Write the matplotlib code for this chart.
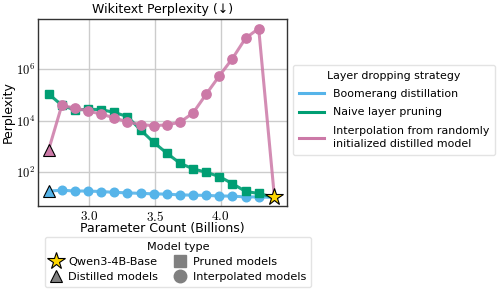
import math
import matplotlib
matplotlib.use("Agg")
import matplotlib.pyplot as plt
from matplotlib.lines import Line2D
from matplotlib.ticker import FuncFormatter, NullLocator

plt.rcParams['font.family'] = ['DejaVu Sans']
plt.rcParams['mathtext.fontset'] = 'cm'

# Parameter counts (billions)
x_params = [2.69, 2.79, 2.89, 2.99, 3.09, 3.19, 3.29, 3.39, 3.49, 3.59,
            3.69, 3.79, 3.89, 3.99, 4.09, 4.19, 4.29]
base_x = 4.41
base_ppl = 10.5

boomerang = [18.5, 20, 18.7, 18.6, 17.8, 16.6, 15.8, 15.1, 14.5, 14.1,
             13.2, 12.9, 12.6, 12.0, 11.8, 11.0, 11.0]
naive = [1.1e5, 4.0e4, 2.6e4, 2.8e4, 2.7e4, 2.1e4, 1.45e4, 4.4e3, 1.45e3, 550,
         225, 135, 100, 68, 36, 18, 15]
interp = [740, 3.9e4, 3.1e4, 2.4e4, 1.8e4, 1.3e4, 8.9e3, 7.1e3, 6.4e3, 6.9e3,
          8.7e3, 2.0e4, 1.07e5, 5.5e5, 2.6e6, 1.6e7, 3.8e7]

BLUE = '#56B4E9'
GREEN = '#009E73'
PINK = '#CC79A7'
GOLD = '#FFD700'

fig = plt.figure(figsize=(4.99, 2.99), dpi=100)
ax = fig.add_axes([0.0756, 0.312, 0.4994, 0.6245])

lw = 2.2
ms = 6.2
# Boomerang
ax.plot(x_params + [base_x], boomerang + [base_ppl], color=BLUE, lw=lw, zorder=2, alpha=0.9)
ax.plot(x_params[1:], boomerang[1:], 'o', color=BLUE, ms=ms, zorder=3, ls='none')
ax.plot(x_params[0], boomerang[0], '^', color=BLUE, mec='black', mew=0.8, ms=8, zorder=3)
# Naive
ax.plot(x_params + [base_x], naive + [base_ppl], color=GREEN, lw=lw, zorder=4, alpha=0.9)
ax.plot(x_params, naive, 's', color=GREEN, ms=ms, zorder=5, ls='none')
# Interp
ax.plot(x_params + [base_x], interp + [base_ppl], color=PINK, lw=lw, zorder=6, alpha=0.85)
ax.plot(x_params[1:], interp[1:], 'o', color=PINK, ms=ms + 0.5, zorder=7, ls='none')
ax.plot(x_params[0], interp[0], '^', color=PINK, mec='black', mew=0.8, ms=8, zorder=7)
# Base model
ax.plot(base_x, base_ppl, '*', color=GOLD, mec='black', mew=0.8, ms=13, zorder=10)

ax.set_yscale('log')
ax.set_xlim(2.607, 4.505)
ax.set_ylim(10 ** 0.70, 10 ** 7.95)
ax.set_xticks([3.0, 3.5, 4.0])
ax.xaxis.set_major_formatter(FuncFormatter(lambda v, p: r'$%.1f$' % v))
ax.set_yticks([1e2, 1e4, 1e6])
ax.yaxis.set_major_formatter(FuncFormatter(lambda v, p: r'$10^{%d}$' % round(math.log10(v))))
ax.yaxis.set_minor_locator(NullLocator())
ax.grid(True, color='#cccccc', lw=1.0, zorder=0)
ax.set_axisbelow(True)
ax.tick_params(axis='x', labelsize=9.5, length=0, pad=3)
ax.tick_params(axis='y', labelsize=9, length=0, pad=2)
for s in ax.spines.values():
    s.set_color('#333333')
    s.set_linewidth(1.0)

ax.set_xlabel('Parameter Count (Billions)', fontsize=9, labelpad=-1)
ax.set_ylabel('Perplexity', fontsize=9, labelpad=1)
ax.set_title('Wikitext Perplexity (↓)', fontsize=9, pad=4)

# Legend 1: strategies
h1 = [Line2D([], [], color=BLUE, lw=2.2),
      Line2D([], [], color=GREEN, lw=2.2),
      Line2D([], [], color=PINK, lw=2.2)]
l1 = ['Boomerang distillation', 'Naive layer pruning',
      'Interpolation from randomly\ninitialized distilled model']
leg1 = fig.legend(h1, l1, title='Layer dropping strategy', loc='upper left',
                  bbox_to_anchor=(0.587, 0.783), borderaxespad=0,
                  fontsize=7.9, title_fontsize=7.9,
                  frameon=True, handlelength=2.3, borderpad=0.55, labelspacing=0.75,
                  handletextpad=0.8, fancybox=True)
leg1.get_texts()[2].set_linespacing(1.45)
leg1.get_frame().set_edgecolor('#dddddd')

# Legend 2: model types
GRAY = '#808080'
h2 = [Line2D([], [], marker='*', color=GOLD, mec='black', mew=0.8, ms=13, ls='none'),
      Line2D([], [], marker='^', color=GRAY, mec='black', mew=0.8, ms=9, ls='none'),
      Line2D([], [], marker='s', color=GRAY, ms=8, ls='none'),
      Line2D([], [], marker='o', color=GRAY, ms=9, ls='none')]
l2 = ['Qwen3-4B-Base', 'Distilled models', 'Pruned models', 'Interpolated models']
leg2 = fig.legend(h2, l2, title='Model type', loc='upper left', ncol=2,
                  bbox_to_anchor=(0.090, 0.207), borderaxespad=0,
                  fontsize=8.1, title_fontsize=8.1,
                  frameon=True, handlelength=1.0, borderpad=0.45, labelspacing=0.45,
                  handletextpad=0.6, columnspacing=1.5, fancybox=True)
leg2.get_frame().set_edgecolor('#dddddd')

fig.savefig('out.png', dpi=100)
